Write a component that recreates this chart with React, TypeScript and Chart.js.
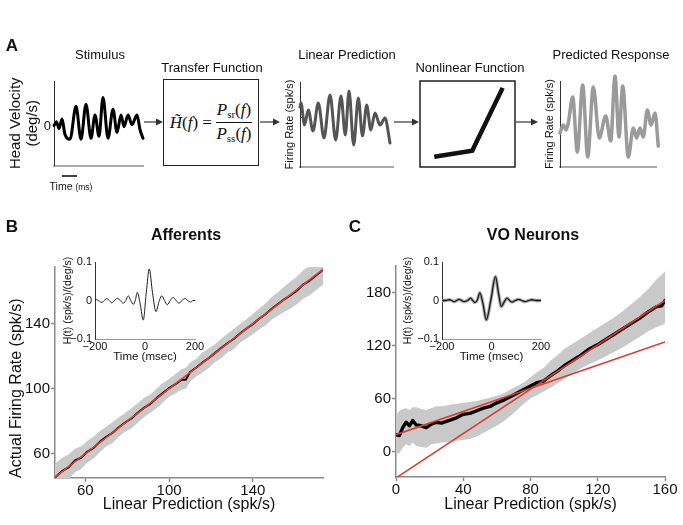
import React, { useEffect, useRef } from 'react';
import { Chart, registerables } from 'chart.js';

Chart.register(...registerables);

const SANS = "'Liberation Sans', Arial, Helvetica, sans-serif";
const SERIF = "'Liberation Serif', 'DejaVu Serif', serif";
const RED = '#dd3b30';
const BAND = '#c9c9c9';
const AXIS = '#8a8a8a';

// ---------- Panel A data ----------
const stimT = [0, 2.5, 5, 8, 11, 16, 22, 27, 32, 37, 41, 45, 49, 54, 59, 63, 67, 70, 74, 78, 83, 86, 89];
const stimV = [1, 5, -2, 8, -8, -13, 21, -13, 23, -12, 12, -10, 30, -12, 18, -6, 12, 0, 12, 2, 12, -3, -12];

const lpT = [0, 1, 4.5, 8.3, 13, 18.3, 24, 30, 35.7, 41, 45.3, 49, 53.7, 58.3, 62.5, 66.7, 70.8, 75, 80, 85, 90];
const lpV = [10, 14, -8, 7, -14, 14, -21, 22, -23, 21, -18, 26, -28, 19, -19, 12, -13, 4, -8, -1, -26];

const prT = [0, 3.3, 6, 8.3, 12.7, 17.3, 22.7, 27.7, 33.3, 39.3, 45.7, 50.7, 55, 59, 62.7, 68.3, 73.3, 76.7, 80, 83.3, 87.3, 91, 95, 98.3];
const prV = [34, 42, 37, 44, 70, 15, 82, 10, 80, 29, 51, 26, 91, 30, 81, 10, 39, 29, 39, 30, 57, 42, 54, 21];

const nlX = [15, 55, 87];
const nlY = [12, 19, 92];

// ---------- Panel B data (Afferents) ----------
const bX = [45.5, 49, 52, 55, 58, 61, 64, 67, 70, 73, 76, 79, 82, 85, 88, 91, 94, 97, 100, 103, 106, 108, 110, 113, 116, 119, 122, 125, 128, 131, 134, 137, 140, 143, 146, 149, 152, 155, 158, 161, 164, 167, 170, 173.5];
const bY = [45.3, 49.4, 51.6, 55.8, 57.5, 61.3, 63.6, 67.4, 70.4, 72.9, 76.3, 79.2, 81.7, 85.2, 88.2, 90.7, 94.2, 97.3, 100.4, 102.8, 105.6, 105.6, 110.3, 113.1, 116.2, 118.9, 122.1, 125.2, 128.2, 130.8, 134.2, 137.1, 139.8, 143.1, 145.9, 149.3, 152.2, 155.1, 157.6, 160.4, 164.2, 166.5, 169.6, 173.3];
const bUpper = [54, 57.5, 59.5, 63, 64.5, 68, 70.5, 74, 76.5, 79.5, 82.5, 85, 88, 91, 94.5, 96.5, 100, 103.5, 106, 109, 112, 113, 116, 118.5, 122.5, 125, 127.5, 131, 134, 137, 140, 143, 146, 149.5, 152.5, 156.5, 159.5, 163, 166, 169, 173, 175.5, 178.5, 182];
const bLower = [37, 41, 44, 48.5, 50.5, 54.5, 57, 61, 64.5, 66.5, 70.5, 73.5, 75.5, 79, 82.5, 85, 88, 91.5, 95, 97, 99.5, 100, 104.5, 107.5, 110, 113, 116.5, 119, 122.5, 124.5, 128.5, 131, 133.5, 136.5, 139, 142.5, 145, 147.5, 149.5, 152, 155.5, 157.5, 160.5, 164];
const bFitX = [45.5, 173.5];
const bFitY = [45.5, 173.5];
const bXTicks = [60, 100, 140];
const bYTicks = [60, 100, 140];

// ---------- Panel C data (VO Neurons) ----------
const cX = [0, 2, 4, 6, 8, 10, 12, 15, 18, 21, 24, 27, 30, 33, 36, 40, 44, 48, 52, 56, 60, 64, 68, 72, 76, 80, 84, 88, 92, 96, 100, 105, 110, 115, 120, 125, 130, 135, 140, 145, 150, 155, 158, 160];
const cY = [19, 18, 27, 33, 29, 35, 30, 29, 27, 31, 33, 32, 34, 36, 38, 42, 43, 46, 49, 51, 55, 58, 62, 66, 70, 74, 78, 80, 86, 91, 97, 103, 109, 116, 121, 127, 133, 139, 145, 151, 158, 164, 165, 171];
const cUpper = [40, 46, 48, 49, 47, 50, 50, 48, 47, 49, 51, 51, 52, 53, 54, 55, 56, 57, 59, 61, 63, 66, 70, 74, 78, 84, 90, 95, 103, 109, 116, 122, 128, 134, 140, 146, 152, 159, 167, 175, 184, 195, 200, 204];
const cLower = [-3, -2, 4, 8, 6, 10, 6, 5, 4, 8, 9, 10, 10, 11, 12, 13, 14, 17, 21, 25, 29, 34, 40, 47, 54, 60, 64, 68, 72, 77, 82, 88, 94, 99, 103, 108, 113, 118, 124, 130, 136, 141, 143, 145];
const cFit1X = [0, 160];
const cFit1Y = [19, 124];
const cFit2X = [0, 160];
const cFit2Y = [-30, 171];
const cXTicks = [0, 40, 80, 120, 160];
const cYTicks = [0, 60, 120, 180];

// ---------- Insets (transfer functions) ----------
const bInsetT = [-200, -196, -185, -173, -163, -153, -143, -133, -122, -111, -99, -87, -77, -67, -57, -47, -39, -31, -19, -7, 5, 17, 30, 44, 55, 67, 78, 89, 101, 113, 124, 136, 148, 160, 171, 183, 192, 200];
const bInsetV = [0, 0.003, -0.001, -0.005, 0, 0.005, 0, -0.006, 0, 0.006, 0, -0.007, 0, 0.012, 0, -0.01, 0, 0.021, -0.01, -0.051, 0.02, 0.082, 0.02, -0.029, -0.005, 0.012, 0, -0.011, 0, 0.008, 0, -0.007, 0, 0.005, 0, -0.004, 0, 0];
const cInsetT = [-200, -185, -171, -161, -151, -141, -131, -121, -111, -97, -84, -76, -68, -58, -47, -34, -21, -3, 16, 28, 40, 51, 63, 73, 83, 96, 109, 122, 136, 150, 163, 180, 200];
const cInsetV = [0, 0, 0.002, 0, -0.003, 0, 0.003, 0, -0.003, 0, 0.006, 0, -0.005, 0, 0.02, -0.01, -0.05, 0, 0.062, 0.02, -0.016, -0.004, 0.006, 0, -0.004, 0, 0.003, 0, -0.003, 0, 0.002, 0, 0];
const insetXTicks = [-200, 0, 200];
const insetYTicks = [-0.1, 0, 0.1];

// ---------- helpers ----------
type Box = { left: number; top: number; width: number; height: number };
type Area = { l: number; t: number; r: number; b: number };

const pts = (xs: number[], ys: number[]) => xs.map((x, i) => ({ x, y: ys[i] }));
const minus = (v: number) => (v < 0 ? '\u2212' + String(Math.abs(v)) : String(v));

function base(box: Box, area: Area) {
  return {
    responsive: false,
    maintainAspectRatio: false,
    animation: false,
    events: [],
    layout: {
      padding: {
        left: 0,
        top: area.t - box.top,
        right: box.left + box.width - area.r,
        bottom: 0,
      },
    },
    plugins: { legend: { display: false }, tooltip: { enabled: false }, title: { display: false } },
    elements: { point: { radius: 0 } },
  };
}

function axis(o: any) {
  const isY = o.position === 'left';
  return {
    type: 'linear',
    position: o.position,
    min: o.min,
    max: o.max,
    afterFit: (s: any) => {
      if (isY) s.width = o.size;
      else s.height = o.size;
    },
    afterBuildTicks: (s: any) => {
      s.ticks = (o.ticks || []).map((v: number) => ({ value: v }));
    },
    border: { display: true, color: o.color ?? AXIS, width: o.width ?? 1 },
    grid: {
      display: !!o.tickLen,
      drawOnChartArea: false,
      drawTicks: !!o.tickLen,
      tickLength: o.tickLen || 0,
      color: o.color ?? AXIS,
      tickWidth: o.width ?? 1,
    },
    ticks: {
      display: !!o.labels,
      padding: o.pad ?? 2,
      autoSkip: false,
      maxRotation: 0,
      minRotation: 0,
      color: '#111',
      font: { family: SANS, size: o.fontSize ?? 12, lineHeight: 1 },
      callback: (v: number) => (o.fmt ? o.fmt(v) : String(v)),
    },
    title: o.title
      ? {
          display: true,
          text: o.title,
          color: '#111',
          align: o.titleAlign ?? 'center',
          font: { family: SANS, size: o.titleSize ?? 12, lineHeight: o.titleLH ?? 1 },
          padding: o.titlePad ?? 0,
        }
      : { display: false },
  };
}

const line = (xs: number[], ys: number[], color: string, width: number, extra: any = {}) => ({
  data: pts(xs, ys),
  borderColor: color,
  borderWidth: width,
  pointRadius: 0,
  fill: false,
  tension: 0,
  borderJoinStyle: 'round',
  borderCapStyle: 'round',
  ...extra,
});

// ---------- layout boxes ----------
const stimBox: Box = { left: 0, top: 70, width: 150, height: 105 };
const stimArea: Area = { l: 54, t: 81, r: 143, b: 168 };
const lpBox: Box = { left: 278, top: 70, width: 125, height: 105 };
const lpArea: Area = { l: 300, t: 82, r: 393, b: 167 };
const prBox: Box = { left: 538, top: 70, width: 145, height: 105 };
const prArea: Area = { l: 560, t: 81, r: 656, b: 167 };
const nlBox: Box = { left: 414, top: 75, width: 107, height: 97 };
const nlArea: Area = { l: 420, t: 81, r: 515, b: 167 };
const bBox: Box = { left: 0, top: 255, width: 335, height: 270 };
const bArea: Area = { l: 55, t: 267, r: 323, b: 478 };
const cBox: Box = { left: 345, top: 254, width: 338, height: 271 };
const cArea: Area = { l: 396, t: 266, r: 665, b: 477 };
const biBox: Box = { left: 55, top: 248, width: 160, height: 117 };
const biArea: Area = { l: 95, t: 262, r: 195, b: 339 };
const ciBox: Box = { left: 396, top: 248, width: 165, height: 117 };
const ciArea: Area = { l: 442, t: 262, r: 541, b: 339 };

const smooth = { cubicInterpolationMode: 'monotone', clip: false };

function stimConfig() {
  return {
    type: 'line',
    data: { datasets: [line(stimT, stimV, '#000', 3, smooth)] },
    options: {
      ...base(stimBox, stimArea),
      scales: {
        x: axis({ position: 'bottom', min: 0, max: 89, size: 7, color: '#aaaaaa', width: 2 }),
        y: axis({
          position: 'left', min: -40, max: 47, size: 54, color: '#333', width: 1,
          ticks: [0], labels: true, fontSize: 13, pad: 3,
          title: ['Head Velocity', '(deg/s)'], titleSize: 15, titleLH: '17px', titlePad: { top: 7, bottom: 0 },
        }),
      },
    },
  };
}

function lpConfig() {
  return {
    type: 'line',
    data: { datasets: [line(lpT, lpV, '#555555', 3, smooth)] },
    options: {
      ...base(lpBox, lpArea),
      scales: {
        x: axis({ position: 'bottom', min: 0, max: 93, size: 8, color: '#aaaaaa', width: 2 }),
        y: axis({
          position: 'left', min: -50, max: 35, size: 22, color: '#333', width: 1,
          ticks: [0], tickLen: -3,
          title: 'Firing Rate (spk/s)', titleSize: 11, titlePad: { top: 6.5, bottom: 0 },
        }),
      },
    },
  };
}

function prConfig() {
  return {
    type: 'line',
    data: { datasets: [line(prT, prV, '#9a9a9a', 3.5, smooth)] },
    options: {
      ...base(prBox, prArea),
      scales: {
        x: axis({ position: 'bottom', min: 0, max: 96, size: 8, color: '#aaaaaa', width: 2 }),
        y: axis({
          position: 'left', min: 0, max: 86, size: 22, color: '#333', width: 1,
          title: 'Firing Rate (spk/s)', titleSize: 11, titlePad: { top: 6.5, bottom: 0 },
        }),
      },
    },
  };
}

const framePlugin = {
  id: 'frame',
  afterDraw(chart: any) {
    const { ctx, chartArea: a } = chart;
    ctx.save();
    ctx.strokeStyle = '#222';
    ctx.lineWidth = 1.5;
    ctx.strokeRect(a.left, a.top, a.right - a.left, a.bottom - a.top);
    ctx.restore();
  },
};

function nlConfig() {
  return {
    type: 'line',
    data: { datasets: [line(nlX, nlY, '#111', 4.5, { clip: false, borderCapStyle: 'butt', borderJoinStyle: 'miter' })] },
    options: {
      ...base(nlBox, nlArea),
      layout: {
        padding: {
          left: nlArea.l - nlBox.left,
          top: nlArea.t - nlBox.top,
          right: nlBox.left + nlBox.width - nlArea.r,
          bottom: nlBox.top + nlBox.height - nlArea.b,
        },
      },
      scales: {
        x: { type: 'linear', display: false, min: 0, max: 100 },
        y: { type: 'linear', display: false, min: 0, max: 100 },
      },
    },
    plugins: [framePlugin],
  };
}

const bandUpper = (xs: number[], ys: number[]) => ({
  data: pts(xs, ys), borderColor: 'transparent', borderWidth: 1, pointRadius: 0, backgroundColor: BAND, fill: '+1', tension: 0,
});
const bandLower = (xs: number[], ys: number[]) => ({
  data: pts(xs, ys), borderColor: 'transparent', borderWidth: 1, pointRadius: 0, fill: false, tension: 0,
});

function bConfig() {
  return {
    type: 'line',
    data: {
      datasets: [
        line(bFitX, bFitY, RED, 1.6),
        line(bX, bY, '#000', 2),
        bandUpper(bX, bUpper),
        bandLower(bX, bLower),
      ],
    },
    options: {
      ...base(bBox, bArea),
      scales: {
        x: axis({
          position: 'bottom', min: 45.5, max: 173.5, size: 47, ticks: bXTicks, labels: true, fontSize: 15,
          tickLen: 4, pad: 1, width: 1.5,
          title: 'Linear Prediction (spk/s)', titleSize: 16, titlePad: { top: 0, bottom: 12 },
        }),
        y: axis({
          position: 'left', min: 45, max: 175, size: 55, ticks: bYTicks, labels: true, fontSize: 15,
          tickLen: 4, pad: 1, width: 1.5,
          title: 'Actual Firing Rate (spk/s)', titleSize: 16, titleAlign: 'start', titlePad: { top: 9, bottom: 0 },
        }),
      },
    },
  };
}

function cConfig() {
  return {
    type: 'line',
    data: {
      datasets: [
        line(cFit1X, cFit1Y, RED, 1.6),
        line(cFit2X, cFit2Y, RED, 1.6),
        line(cX, cY, '#000', 3.4),
        bandUpper(cX, cUpper),
        bandLower(cX, cLower),
      ],
    },
    options: {
      ...base(cBox, cArea),
      scales: {
        x: axis({
          position: 'bottom', min: 0, max: 160, size: 48, ticks: cXTicks, labels: true, fontSize: 15,
          tickLen: 4, pad: 1, width: 1.5,
          title: 'Linear Prediction (spk/s)', titleSize: 16, titlePad: { top: 0, bottom: 12 },
        }),
        y: axis({
          position: 'left', min: -29, max: 210, size: 51, ticks: cYTicks, labels: true, fontSize: 15,
          tickLen: 4, pad: 1, width: 1.5,
        }),
      },
    },
  };
}

function insetConfig(box: Box, area: Area, ts: number[], vs: number[], titlePadTop: number, shaded: boolean) {
  const ds: any[] = [line(ts, vs, '#1a1a1a', shaded ? 1.3 : 1, { cubicInterpolationMode: 'monotone' })];
  if (shaded) ds.push(line(ts, vs, '#a8a8a8', 3.4, { cubicInterpolationMode: 'monotone' }));
  return {
    type: 'line',
    data: { datasets: ds },
    options: {
      ...base(box, area),
      scales: {
        x: axis({
          position: 'bottom', min: -200, max: 200, size: box.top + box.height - area.b, ticks: insetXTicks,
          labels: true, fontSize: 11, pad: 2, color: '#999', width: 1, fmt: minus,
          title: 'Time (msec)', titleSize: 11.5, titlePad: { top: 0, bottom: 2.5 },
        }),
        y: axis({
          position: 'left', min: -0.1, max: 0.1, size: area.l - box.left, ticks: insetYTicks,
          labels: true, fontSize: 11, pad: 3, color: '#333', width: 1, fmt: minus,
          title: 'H(t) (spk/s)/(deg/s)', titleSize: 10.5, titlePad: { top: titlePadTop, bottom: 0 },
        }),
      },
    },
  };
}

function ChartBox({ box, make }: { box: Box; make: () => any }) {
  const ref = useRef<HTMLCanvasElement>(null);
  useEffect(() => {
    const chart = new Chart(ref.current as HTMLCanvasElement, make());
    return () => chart.destroy();
  }, []);
  return (
    <canvas
      ref={ref}
      width={box.width}
      height={box.height}
      style={{ position: 'absolute', left: box.left, top: box.top, width: box.width, height: box.height }}
    />
  );
}

function Txt({ x, y, size, bold, children, style }: any) {
  return (
    <div
      style={{
        position: 'absolute', left: x, top: y, transform: 'translate(-50%, -50%)',
        fontSize: size, fontWeight: bold ? 'bold' : 'normal', lineHeight: 1, whiteSpace: 'nowrap',
        fontFamily: SANS, color: '#111', ...style,
      }}
    >
      {children}
    </div>
  );
}

const arrows: [number, number, number][] = [
  [144, 163, 122],
  [260, 280, 122],
  [394, 419, 122],
  [516, 538, 122],
];

export default function App() {
  useEffect(() => {
    document.body.style.margin = '0';
  }, []);
  return (
    <div style={{ position: 'relative', width: 683, height: 525, background: '#fff', overflow: 'hidden' }}>
      <ChartBox box={stimBox} make={stimConfig} />
      <ChartBox box={lpBox} make={lpConfig} />
      <ChartBox box={prBox} make={prConfig} />
      <ChartBox box={nlBox} make={nlConfig} />
      <ChartBox box={bBox} make={bConfig} />
      <ChartBox box={cBox} make={cConfig} />
      <ChartBox box={biBox} make={() => insetConfig(biBox, biArea, bInsetT, bInsetV, 7.5, false)} />
      <ChartBox box={ciBox} make={() => insetConfig(ciBox, ciArea, cInsetT, cInsetV, 6.5, true)} />

      {/* transfer function box */}
      <div
        style={{
          position: 'absolute', left: 163, top: 79, width: 96, height: 87, boxSizing: 'border-box',
          border: '1.5px solid #222', display: 'flex', alignItems: 'center', justifyContent: 'center',
          fontFamily: SERIF, fontSize: 17, lineHeight: 1, color: '#111',
        }}
      >
        <span style={{ fontStyle: 'italic' }}>{'H\u0303'}</span>
        <span>(</span>
        <span style={{ fontStyle: 'italic' }}>f</span>
        <span>)</span>
        <span style={{ margin: '0 4px' }}>=</span>
        <span style={{ display: 'inline-flex', flexDirection: 'column', alignItems: 'center' }}>
          <span style={{ borderBottom: '1px solid #111', padding: '0 1px 2px' }}>
            <i>P</i>
            <span style={{ fontSize: 11, verticalAlign: '-3px' }}>sr</span>(<i>f</i>)
          </span>
          <span style={{ paddingTop: 2 }}>
            <i>P</i>
            <span style={{ fontSize: 11, verticalAlign: '-3px' }}>ss</span>(<i>f</i>)
          </span>
        </span>
      </div>

      <svg width={683} height={525} style={{ position: 'absolute', left: 0, top: 0, pointerEvents: 'none' }}>
        {arrows.map(([x1, x2, y], i) => (
          <g key={i}>
            <line x1={x1} y1={y} x2={x2 - 6} y2={y} stroke="#333" strokeWidth={1.2} />
            <polygon points={`${x2},${y} ${x2 - 7},${y - 3.5} ${x2 - 7},${y + 3.5}`} fill="#333" />
          </g>
        ))}
        <line x1={62} y1={176} x2={77} y2={176} stroke="#111" strokeWidth={1.6} />
      </svg>

      <Txt x={12} y={45} size={17} bold>A</Txt>
      <Txt x={12} y={226} size={17} bold>B</Txt>
      <Txt x={355} y={226} size={17} bold>C</Txt>

      <Txt x={100} y={54} size={13}>Stimulus</Txt>
      <Txt x={212} y={67} size={13}>Transfer Function</Txt>
      <Txt x={347} y={54} size={13}>Linear Prediction</Txt>
      <Txt x={470} y={67} size={13}>Nonlinear Function</Txt>
      <Txt x={611} y={54} size={13}>Predicted Response</Txt>
      <Txt x={71} y={186} size={10.5}>
        Time <span style={{ fontSize: 8.5 }}>(ms)</span>
      </Txt>

      <Txt x={186} y={235} size={16} bold>Afferents</Txt>
      <Txt x={533} y={235} size={16} bold>VO Neurons</Txt>
    </div>
  );
}
